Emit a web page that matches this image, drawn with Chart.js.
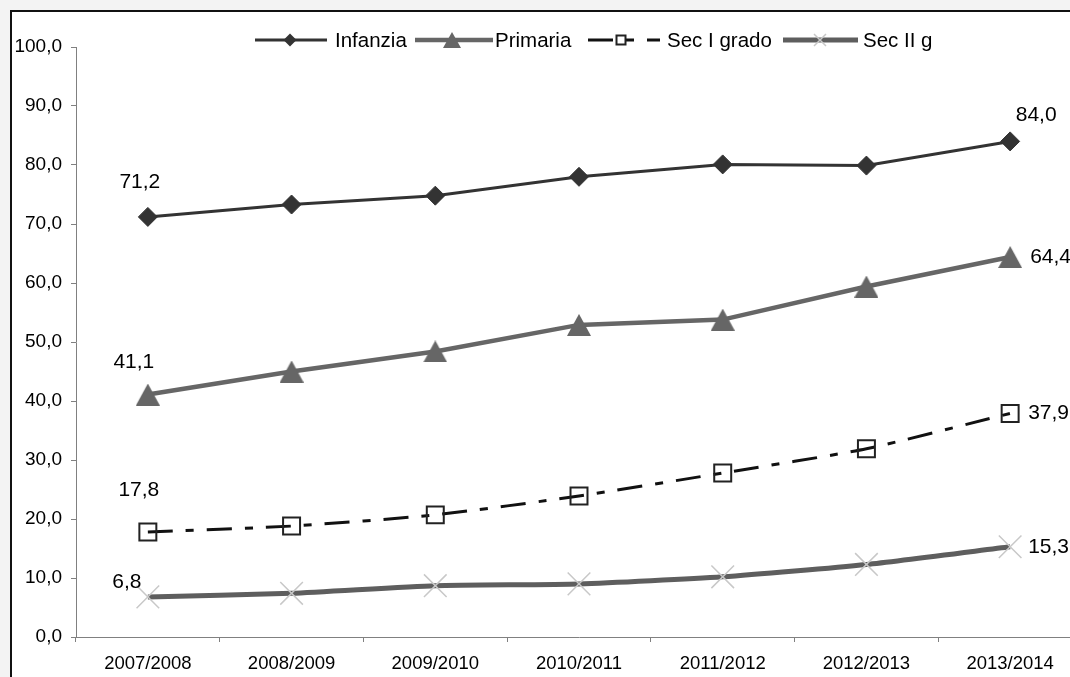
<!DOCTYPE html>
<html>
<head>
<meta charset="utf-8">
<script src="https://cdn.jsdelivr.net/npm/chart.js@4/dist/chart.umd.min.js"></script>
<style>
  html, body { margin: 0; padding: 0; width: 1070px; height: 677px; overflow: hidden; background: #f3f3f3; }
  #frame { position: absolute; left: 10px; top: 10px; width: 1088px; height: 688px; border: 2px solid #111; background: #fff; }
  #frame canvas { position: absolute; left: 0; top: 0; }
</style>
</head>
<body>
<div id="frame"><canvas id="chart" width="1088" height="688"></canvas></div>
<script>
// School years
const anni = ['2007/2008', '2008/2009', '2009/2010', '2010/2011', '2011/2012', '2012/2013', '2013/2014'];

// Percentages per school level
const infanzia = [71.2, 73.3, 74.8, 78.0, 80.1, 79.9, 84.0];
const primaria = [41.1, 45.0, 48.4, 52.9, 53.8, 59.4, 64.4];
const secPrimoGrado = [17.8, 18.8, 20.7, 23.9, 27.8, 31.9, 37.9];
const secSecondoGrado = [6.8, 7.4, 8.7, 9.0, 10.2, 12.3, 15.3];

// Series names
const nomiSerie = ['Infanzia', 'Primaria', 'Sec I grado', 'Sec II g'];

// Value axis range
const yMin = 0;
const yMax = 100;
const yStep = 10;

const FONT = '"Liberation Sans", Arial, Helvetica, sans-serif';
const fmt = v => v.toFixed(1).replace('.', ',');

const DASH_SEC1 = [25, 13, 8, 13];

// Filled triangle centred in its own box, used as the Primaria marker
function triangleSprite(w, h, color) {
  const c = document.createElement('canvas');
  c.width = w; c.height = h;
  const g = c.getContext('2d');
  g.beginPath();
  g.moveTo(w / 2, 0); g.lineTo(w, h); g.lineTo(0, h); g.closePath();
  g.fillStyle = color; g.fill();
  return c;
}
const triangoloPrimaria = triangleSprite(24, 22, '#666666');

// Marker drawing helper for the legend
function drawMarker(ctx, kind, x, y, r, fill, stroke, lw) {
  ctx.save();
  ctx.beginPath();
  if (kind === 'diamond') {
    ctx.moveTo(x - r, y); ctx.lineTo(x, y - r); ctx.lineTo(x + r, y); ctx.lineTo(x, y + r); ctx.closePath();
    ctx.fillStyle = fill; ctx.fill();
  } else if (kind === 'triangle') {
    ctx.moveTo(x, y - r * 0.9); ctx.lineTo(x + r, y + r * 0.9); ctx.lineTo(x - r, y + r * 0.9); ctx.closePath();
    ctx.fillStyle = fill; ctx.fill();
  } else if (kind === 'square') {
    ctx.rect(x - r, y - r, 2 * r, 2 * r);
    ctx.fillStyle = '#fff'; ctx.fill();
    ctx.setLineDash([]); ctx.lineWidth = lw; ctx.strokeStyle = stroke; ctx.stroke();
  } else if (kind === 'cross') {
    ctx.moveTo(x - r, y - r); ctx.lineTo(x + r, y + r);
    ctx.moveTo(x + r, y - r); ctx.lineTo(x - r, y + r);
    ctx.setLineDash([]); ctx.lineWidth = lw; ctx.strokeStyle = stroke; ctx.stroke();
  }
  ctx.restore();
}

// Legend across the top: line sample, marker, name
const legendaInAlto = {
  id: 'legendaInAlto',
  afterDraw(chart, args, opts) {
    const ctx = chart.ctx;
    const y = opts.y;
    chart.data.datasets.forEach((ds, i) => {
      const it = opts.items[i];
      ctx.save();
      ctx.beginPath();
      ctx.moveTo(it.x0, y); ctx.lineTo(it.x1, y);
      ctx.lineWidth = ds.borderWidth;
      ctx.strokeStyle = ds.borderColor;
      ctx.setLineDash(ds.borderDash || []);
      ctx.stroke();
      ctx.restore();
      drawMarker(ctx, it.kind, it.m, y, it.r, it.fill, ds.pointBorderColor, ds.pointBorderWidth);
      ctx.save();
      ctx.font = opts.font;
      ctx.fillStyle = '#000';
      ctx.textAlign = 'left';
      ctx.textBaseline = 'middle';
      ctx.fillText(ds.label, it.tx, y + 1);
      ctx.restore();
    });
  }
};

// Value labels at the first and last year of each series
const etichetteValori = {
  id: 'etichetteValori',
  afterDatasetsDraw(chart, args, opts) {
    const ctx = chart.ctx;
    ctx.save();
    ctx.font = opts.font;
    ctx.fillStyle = '#000';
    ctx.textBaseline = 'middle';
    opts.items.forEach(it => {
      const el = chart.getDatasetMeta(it.dataset).data[it.index];
      const v = chart.data.datasets[it.dataset].data[it.index];
      ctx.textAlign = it.align;
      ctx.fillText(fmt(v), el.x + it.dx, el.y + it.dy);
    });
    ctx.restore();
  }
};

new Chart(document.getElementById('chart'), {
  type: 'line',
  data: {
    labels: anni,
    datasets: [
      {
        label: nomiSerie[0], data: infanzia,
        borderColor: '#333333', borderWidth: 3,
        pointStyle: 'rectRot', pointRadius: 9.5,
        pointBackgroundColor: '#333333', pointBorderColor: '#333333', pointBorderWidth: 1,
        tension: 0
      },
      {
        label: nomiSerie[1], data: primaria,
        borderColor: '#666666', borderWidth: 4.5,
        pointStyle: triangoloPrimaria, pointRadius: 12,
        pointBackgroundColor: '#666666', pointBorderColor: '#666666', pointBorderWidth: 1,
        tension: 0
      },
      {
        label: nomiSerie[2], data: secPrimoGrado,
        borderColor: '#111111', borderWidth: 3, borderDash: DASH_SEC1,
        pointStyle: 'rect', pointRadius: 12,
        pointBackgroundColor: 'rgba(0,0,0,0)', pointBorderColor: '#222222', pointBorderWidth: 2,
        tension: 0.2
      },
      {
        label: nomiSerie[3], data: secSecondoGrado,
        borderColor: '#5e5e5e', borderWidth: 5,
        pointStyle: 'crossRot', pointRadius: 16,
        pointBackgroundColor: '#c8c8c8', pointBorderColor: '#c8c8c8', pointBorderWidth: 1.5,
        tension: 0.2
      }
    ]
  },
  options: {
    responsive: false,
    animation: false,
    events: [],
    layout: { padding: { top: 35, right: 18, left: 0, bottom: 0 } },
    scales: {
      x: {
        type: 'category',
        offset: true,
        afterFit: s => { s.height = 63; },
        grid: { offset: true, drawOnChartArea: false, drawTicks: true, tickLength: 5, color: '#808080', lineWidth: 1 },
        border: { display: true, color: '#808080', width: 1 },
        ticks: { color: '#000', padding: 11, font: { family: FONT, size: 18.5 }, maxRotation: 0, autoSkip: false }
      },
      y: {
        min: yMin, max: yMax,
        afterFit: s => { s.width = 64; },
        grid: { drawOnChartArea: false, drawTicks: true, tickLength: 5, color: '#808080', lineWidth: 1 },
        border: { display: true, color: '#808080', width: 1 },
        ticks: { stepSize: yStep, color: '#000', padding: 9, font: { family: FONT, size: 19 }, callback: v => fmt(v) }
      }
    },
    plugins: {
      legend: { display: false },
      tooltip: { enabled: false },
      legendaInAlto: {
        y: 28,
        font: '20.5px ' + FONT,
        items: [
          { x0: 243, x1: 315, m: 278, r: 6.5, tx: 323, kind: 'diamond', fill: '#333333' },
          { x0: 403, x1: 481, m: 440, r: 9, tx: 483, kind: 'triangle', fill: '#666666' },
          { x0: 576, x1: 648, m: 609, r: 4.5, tx: 655, kind: 'square', fill: '#fff' },
          { x0: 771, x1: 846, m: 808, r: 6, tx: 851, kind: 'cross', fill: '#c8c8c8' }
        ]
      },
      etichetteValori: {
        font: '21px ' + FONT,
        items: [
          { dataset: 0, index: 0, dx: -8, dy: -35, align: 'center' },
          { dataset: 0, index: 6, dx: 26, dy: -26, align: 'center' },
          { dataset: 1, index: 0, dx: -14, dy: -32, align: 'center' },
          { dataset: 1, index: 6, dx: 20, dy: 0, align: 'left' },
          { dataset: 2, index: 0, dx: -9, dy: -42, align: 'center' },
          { dataset: 2, index: 6, dx: 18, dy: 0, align: 'left' },
          { dataset: 3, index: 0, dx: -21, dy: -15, align: 'center' },
          { dataset: 3, index: 6, dx: 18, dy: 0, align: 'left' }
        ]
      }
    }
  },
  plugins: [legendaInAlto, etichetteValori]
});
</script>
</body>
</html>
